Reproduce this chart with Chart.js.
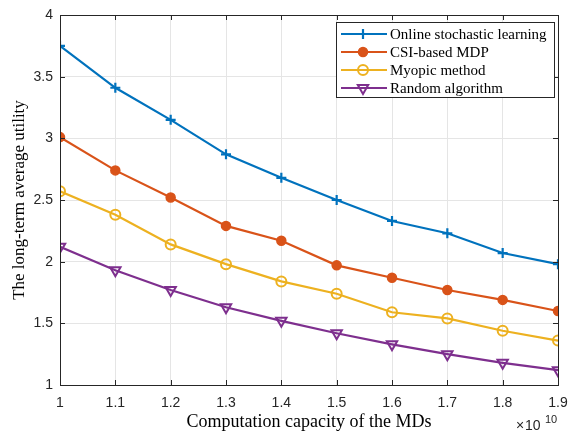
<!DOCTYPE html>
<html><head><meta charset="utf-8">
<script src="https://cdn.jsdelivr.net/npm/chart.js@4"></script>
<style>html,body{margin:0;padding:0;background:#fff}#wrap{width:571px;height:433px}</style>
</head><body><div id="wrap"><canvas id="c" width="571" height="433"></canvas></div>
<script>
const capacities = [1, 1.1, 1.2, 1.3, 1.4, 1.5, 1.6, 1.7, 1.8, 1.9];
const onlineLearning = [3.75, 3.41, 3.15, 2.87, 2.68, 2.50, 2.33, 2.23, 2.07, 1.98];
const csiMDP = [3.01, 2.74, 2.52, 2.29, 2.17, 1.97, 1.87, 1.77, 1.69, 1.60];
const myopic = [2.57, 2.38, 2.14, 1.98, 1.84, 1.74, 1.59, 1.54, 1.44, 1.36];
const randomAlg = [2.12, 1.93, 1.77, 1.63, 1.52, 1.42, 1.33, 1.25, 1.18, 1.12];
const seriesNames = ['Online stochastic learning', 'CSI-based MDP', 'Myopic method', 'Random algorithm'];
const xTicks = [1, 1.1, 1.2, 1.3, 1.4, 1.5, 1.6, 1.7, 1.8, 1.9];
const yTicks = [1, 1.5, 2, 2.5, 3, 3.5, 4];

const colors = ['#0072BD', '#D95319', '#EDB120', '#7E2F8E'];
const styles = [
  {pointStyle:'cross', radius:5, bg:'#0072BD', bw:2.2, rot:0},
  {pointStyle:'circle', radius:4.5, bg:'#D95319', bw:1.5, rot:0},
  {pointStyle:'circle', radius:5, bg:'rgba(0,0,0,0)', bw:2, rot:0},
  {pointStyle:'triangle', radius:6, bg:'rgba(0,0,0,0)', bw:2, rot:180}
];
const allData = [onlineLearning, csiMDP, myopic, randomAlg];
const datasets = allData.map((d, i) => ({
  label: seriesNames[i],
  data: d.map((v, j) => ({x: capacities[j], y: v})),
  borderColor: colors[i],
  backgroundColor: styles[i].bg,
  borderWidth: 2.2,
  pointStyle: styles[i].pointStyle,
  pointRadius: styles[i].radius,
  pointBorderWidth: styles[i].bw,
  pointRotation: styles[i].rot,
  pointBackgroundColor: styles[i].bg,
  pointBorderColor: colors[i],
  tension: 0
}));

const boxPlugin = {
  id: 'box',
  afterDatasetsDraw(chart) {
    const {ctx, chartArea: a, scales} = chart;
    ctx.save();
    ctx.strokeStyle = '#262626';
    ctx.lineWidth = 1;
    ctx.strokeRect(a.left + 0.5, a.top + 0.5, a.right - a.left, a.bottom - a.top);
    const tl = 5;
    ctx.beginPath();
    xTicks.forEach(v => {
      const px = Math.round(scales.x.getPixelForValue(v)) + 0.5;
      ctx.moveTo(px, a.bottom); ctx.lineTo(px, a.bottom - tl);
      ctx.moveTo(px, a.top); ctx.lineTo(px, a.top + tl);
    });
    yTicks.forEach(v => {
      const py = Math.round(scales.y.getPixelForValue(v)) + 0.5;
      ctx.moveTo(a.left, py); ctx.lineTo(a.left + tl, py);
      ctx.moveTo(a.right, py); ctx.lineTo(a.right - tl, py);
    });
    ctx.stroke();
    // exponent label
    ctx.fillStyle = '#262626';
    ctx.textBaseline = 'alphabetic';
    ctx.textAlign = 'left';
    ctx.font = '14px "Liberation Sans", Arial, sans-serif';
    ctx.fillText('\u00d7', 516, 430);
    ctx.fillText('10', 525, 430);
    ctx.font = '11px "Liberation Sans", Arial, sans-serif';
    ctx.fillText('10', 545, 423);
    // legend
    const lx = 336, ly = 22, lw = 218, lh = 75;
    ctx.fillStyle = '#fff';
    ctx.fillRect(lx, ly, lw, lh);
    ctx.strokeStyle = '#262626';
    ctx.lineWidth = 1;
    ctx.strokeRect(lx + 0.5, ly + 0.5, lw, lh);
    seriesNames.forEach((name, i) => {
      const y = ly + 12 + i * 18;
      ctx.strokeStyle = colors[i];
      ctx.lineWidth = 2.2;
      ctx.beginPath(); ctx.moveTo(lx + 5, y); ctx.lineTo(lx + 51, y); ctx.stroke();
      const st = styles[i];
      ctx.fillStyle = st.bg;
      ctx.strokeStyle = colors[i];
      ctx.lineWidth = st.bw;
      Chart.helpers.drawPoint(ctx, {pointStyle: st.pointStyle, radius: st.radius, rotation: st.rot, borderWidth: st.bw}, lx + 27, y);
      ctx.fillStyle = '#000';
      ctx.font = '15px "Liberation Serif", "Times New Roman", serif';
      ctx.textBaseline = 'middle';
      ctx.fillText(name, lx + 54, y + 1);
    });
    ctx.restore();
  }
};

new Chart(document.getElementById('c'), {
  type: 'line',
  data: {datasets},
  options: {
    responsive: false,
    animation: false,
    layout: {padding: {left: 9, right: 13, top: 15, bottom: 0}},
    plugins: {legend: {display: false}, tooltip: {enabled: false}},
    scales: {
      x: {
        type: 'linear', min: 1, max: 1.9,
        afterBuildTicks: s => { s.ticks = xTicks.map(v => ({value: v})); },
        afterFit: s => { s.height = 48; s.paddingLeft = 0; s.paddingRight = 0; },
        grid: {color: '#e5e5e5', tickLength: 0, drawTicks: false},
        border: {display: false},
        ticks: {padding: 10, color: '#262626', font: {family: '"Liberation Sans", Arial, sans-serif', size: 14},
                callback: v => String(Math.round(v * 10) / 10), maxRotation: 0},
        title: {display: true, text: 'Computation capacity of the MDs', color: '#000',
                font: {family: '"Liberation Serif", "Times New Roman", serif', size: 18}, padding: {top: 0, bottom: 0}}
      },
      y: {
        min: 1, max: 4,
        afterBuildTicks: s => { s.ticks = yTicks.map(v => ({value: v})); },
        afterFit: s => { s.width = 51; s.paddingTop = 0; s.paddingBottom = 0; },
        grid: {color: '#e5e5e5', tickLength: 0, drawTicks: false},
        border: {display: false},
        ticks: {padding: 7, color: '#262626', font: {family: '"Liberation Sans", Arial, sans-serif', size: 14},
                callback: v => String(v)},
        title: {display: true, text: 'The long-term average utility', color: '#000',
                font: {family: '"Liberation Serif", "Times New Roman", serif', size: 17}, padding: {top: 0, bottom: 0}}
      }
    }
  },
  plugins: [boxPlugin]
});
</script></body></html>
